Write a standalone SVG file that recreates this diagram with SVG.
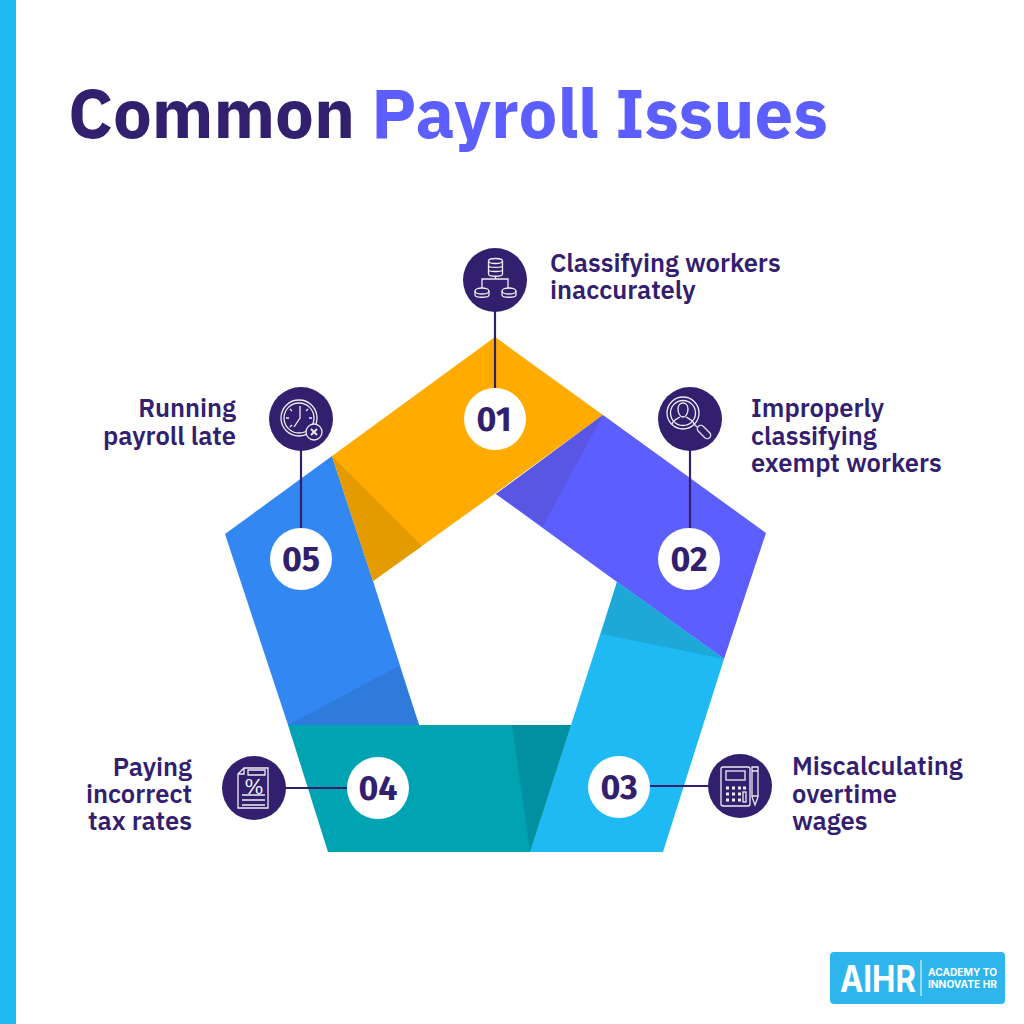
<svg xmlns="http://www.w3.org/2000/svg" width="1024" height="1024" viewBox="0 0 1024 1024">
<style>
text{font-family:"IBM Plex Sans","Fira Sans","Open Sans","Noto Sans",sans-serif}
.t{font-size:25.500px;font-weight:600;fill:#32206f}
.n{font-size:34px;font-weight:700;fill:#32206f;text-anchor:middle;font-family:"Fira Sans","Open Sans",sans-serif}
.e{text-anchor:end}
.d{fill:#32206f}
.l{stroke:#32206f;stroke-width:2.2;fill:none}
.i{stroke:#fff;stroke-width:1.3;fill:none;opacity:.92}
.c{fill:#fff}
.g{font-family:Inter,"Liberation Sans",sans-serif;font-weight:700;fill:#fff}
</style>
<rect width="1024" height="1024" fill="#fff"/>
<rect width="16" height="1024" fill="#1fbaf3"/>
<text x="68" y="138" font-size="68" font-weight="700" fill="#32206f" textLength="760" lengthAdjust="spacingAndGlyphs">Common <tspan fill="#5c5ffd">Payroll Issues</tspan></text>
<g id="shapes">
<polygon points="225,534 332,456 373,581 419,725 288,725" fill="#3387f2"/>
<polygon points="399,666 419,725 288,725" fill="#2f7bdc"/>
<polygon points="495,337 603,415 493,495 373,581 332,456" fill="#ffab00"/>
<polygon points="332,456 422,546 373,581" fill="#e39b00"/>
<polygon points="603,415 766,533 724,659 617,582 496,494" fill="#5c5ffd"/>
<polygon points="603,415 543,526 496,494" fill="#5856e3"/>
<polygon points="617,582 724,659 663,852 530,852 571,725" fill="#1fbaf3"/>
<polygon points="617,582 724,659 601,634" fill="#1ea8d8"/>
<polygon points="288,725 571,725 530,852 328,852" fill="#00a3b2"/>
<polygon points="512,725 571,725 530,852" fill="#0190a1"/>
</g>
<g id="connectors">
<path class="l" d="M495 300V395"/>
<path class="l" d="M690 440V535"/>
<path class="l" d="M650 786H720"/>
<path class="l" d="M285 788H350"/>
<path class="l" d="M301 440V535"/>
</g>
<g id="node-1">
<circle class="d" cx="495" cy="280" r="32"/>
<g class="i"><ellipse cx="495.500" cy="261" rx="7" ry="2.500"/><path d="M488.500 261V274C488.500 277 502.500 277 502.500 274V261M488.500 265.500C488.500 268 502.500 268 502.500 265.500M488.500 270C488.500 272 502.500 272 502.500 270M495.500 276V279M482 288V279H508V288"/><ellipse cx="482" cy="291" rx="7" ry="3"/><path d="M475 291V295C475 298 489 298 489 295V291"/><ellipse cx="509" cy="291" rx="7" ry="3"/><path d="M502 291V295C502 298 516 298 516 295V291"/></g>
<circle class="c" cx="495" cy="419" r="31"/>
<text class="n" x="494" y="431">01</text>
<text class="t"><tspan x="550" y="271.500">Classifying workers</tspan><tspan x="550" y="299">inaccurately</tspan></text>
</g>
<g id="node-2">
<circle class="d" cx="690" cy="419" r="32"/>
<g class="i"><circle cx="683" cy="413" r="16"/><circle cx="683" cy="413" r="12.500"/><path d="M678 409C678 401 688 401 688 409C688 413 686 417 683 417C680 417 678 413 678 409ZM672 424C673 420 677 419 680 417M694 424C693 420 689 419 686 417M694 424L697 427"/><rect x="-3.500" y="-8" width="7" height="16" rx="3.500" transform="translate(704 432) rotate(-45)"/></g>
<circle class="c" cx="689" cy="559" r="31"/>
<text class="n" x="689" y="571">02</text>
<text class="t"><tspan x="751" y="417">Improperly</tspan><tspan x="751" y="444.500">classifying</tspan><tspan x="751" y="472">exempt workers</tspan></text>
</g>
<g id="node-3">
<circle class="d" cx="740" cy="786" r="32"/>
<g class="i"><rect x="721" y="767" width="29" height="39" rx="2"/><rect x="726" y="771" width="19" height="9"/><path d="M726 788h3M732 788h3M738 788h3M743 788h3M726 794h3M732 794h3M738 794h3M726 800h3M732 800h3M738 800h3" stroke-width="2.800"/><rect x="743" y="792" width="3" height="10"/><path d="M752 767H758V797L755 805L752 797ZM752 771H758M752 796H758"/></g>
<circle class="c" cx="619" cy="787" r="31"/>
<text class="n" x="619" y="799">03</text>
<text class="t"><tspan x="792" y="775">Miscalculating</tspan><tspan x="792" y="802.500">overtime</tspan><tspan x="792" y="830">wages</tspan></text>
</g>
<g id="node-4">
<circle class="d" cx="254" cy="788" r="32"/>
<g class="i"><path d="M244 768H268V808H238V774ZM244 768V774H238M248 770H265V775H248ZM242 795H265M242 800H265M242 805H265"/></g>
<text x="254" y="794" font-size="21" font-weight="400" fill="#fff" text-anchor="middle">%</text>
<circle class="c" cx="378" cy="788" r="31"/>
<text class="n" x="378" y="800">04</text>
<text class="t e"><tspan x="192" y="776">Paying</tspan><tspan x="192" y="803">incorrect</tspan><tspan x="192" y="830">tax rates</tspan></text>
</g>
<g id="node-5">
<circle class="d" cx="301" cy="419" r="32"/>
<g class="i"><circle cx="299" cy="418" r="18"/><circle cx="299" cy="418" r="15"/><path d="M300 406V418L294 427M286 418h3M309 418h3M290 409l2 2M308 409l-2 2M290 427l2-2"/><circle cx="314" cy="432" r="8" fill="#32206f"/><path d="M311 429l6 6M317 429l-6 6" stroke-width="1.800"/></g>
<circle class="c" cx="301" cy="559" r="31"/>
<text class="n" x="301" y="571">05</text>
<text class="t e"><tspan x="236" y="417">Running</tspan><tspan x="236" y="444.500">payroll late</tspan></text>
</g>
<g id="logo">
<rect x="830" y="952" width="175" height="52" rx="4" fill="#2db5ec"/>
<text class="g" x="840" y="992" font-size="37" textLength="76" lengthAdjust="spacingAndGlyphs">AIHR</text>
<path d="M921 960V996" stroke="#fff" stroke-width="1"/>
<text class="g" x="928" y="976" font-size="10" textLength="69" lengthAdjust="spacingAndGlyphs">ACADEMY TO</text>
<text class="g" x="928" y="988" font-size="10" textLength="69" lengthAdjust="spacingAndGlyphs">INNOVATE HR</text>
</g>
</svg>
